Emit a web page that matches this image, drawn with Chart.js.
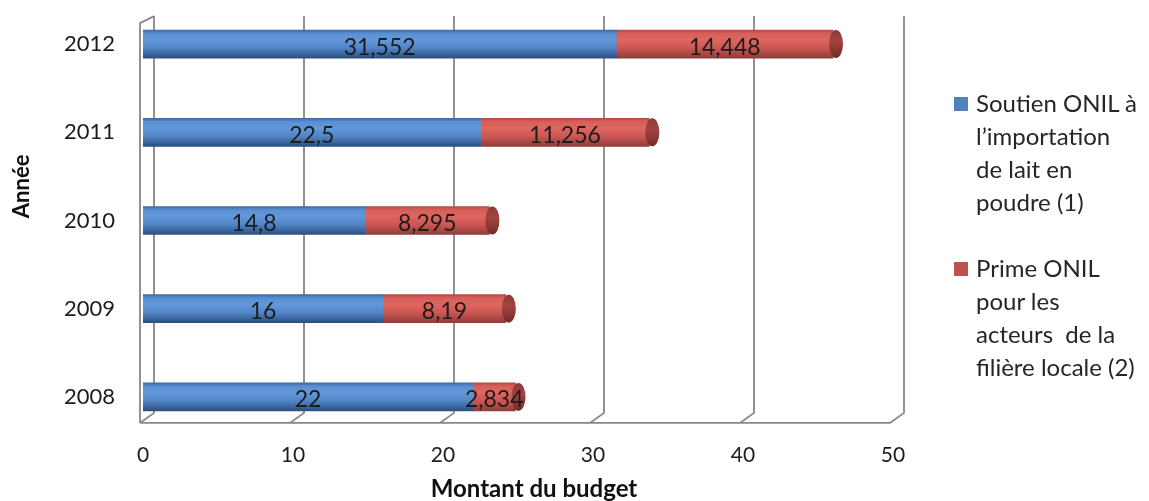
<!DOCTYPE html>
<html><head><meta charset="utf-8">
<script src="https://cdn.jsdelivr.net/npm/chart.js@4.4.0/dist/chart.umd.min.js"></script>
<style>
html,body{margin:0;padding:0;background:#fff;}
#wrap{position:relative;width:1149px;height:501px;}
#c{position:absolute;left:0;top:0;}
#legend{position:absolute;left:954px;top:0;width:195px;height:501px;font-family:Lato,sans-serif;font-size:24px;color:#262626;}
.sw{position:absolute;left:0;width:14px;height:14px;}
.txt{position:absolute;left:22px;line-height:33px;white-space:nowrap;}
</style></head>
<body>
<div id="wrap">
<canvas id="c" width="1149" height="501"></canvas>
<div id="legend"></div>
</div>
<script>
const categories = ['2012', '2011', '2010', '2009', '2008'];
const soutienValues = [31.552, 22.5, 14.8, 16, 22];
const primeValues = [14.448, 11.256, 8.295, 8.19, 2.834];
const xTickValues = [0, 10, 20, 30, 40, 50];
const seriesNames = ['Soutien ONIL à l\u2019importation de lait en poudre (1)', 'Prime ONIL pour les acteurs de la filière locale (2)'];
const legendLines = [
  ['Soutien ONIL à', 'l\u2019importation', 'de lait en', 'poudre (1)'],
  ['Prime ONIL', 'pour les', 'acteurs\u00a0 de la', 'filière locale (2)']
];
const xTitle = 'Montant du budget';
const yTitle = 'Année';

const baseColors = ['#4F81BD', '#C0504D'];
const gradStops = [
  [[0, '#3d69a3'], [0.12, '#5a8fd2'], [0.35, '#6398da'], [0.65, '#5084c6'], [1, '#2b4f80']],
  [[0, '#b84a46'], [0.12, '#d65f5a'], [0.35, '#df6660'], [0.65, '#cb5652'], [1, '#8f3d3a']]
];
const BAR_T = 28;

function makeFill(di) {
  return function (ctx) {
    const chart = ctx.chart;
    if (ctx.type !== 'data' || !chart.chartArea || !chart.scales.y) return baseColors[di];
    const y = chart.scales.y.getPixelForValue(ctx.dataIndex);
    const g = chart.ctx.createLinearGradient(0, y - BAR_T / 2, 0, y + BAR_T / 2);
    gradStops[di].forEach(s => g.addColorStop(s[0], s[1]));
    return g;
  };
}

const fmt = v => String(v).replace('.', ',');

const box3d = {
  id: 'box3d',
  beforeDatasetsDraw(chart) {
    const c = chart.ctx, xs = chart.scales.x, ys = chart.scales.y;
    const yTop = ys.getPixelForValue(0) - 28;
    const yBackBot = ys.getPixelForValue(categories.length - 1) + 16;
    const yFront = yBackBot + 10;
    const dxF = -3, dxB = 11;
    c.save();
    c.strokeStyle = '#878787';
    c.lineWidth = 1.8;
    c.beginPath();
    xTickValues.forEach(v => {
      const xp = xs.getPixelForValue(v);
      c.moveTo(xp + dxB, yTop);
      c.lineTo(xp + dxB, yBackBot);
      c.lineTo(xp + dxF, yFront);
    });
    const x0 = xs.getPixelForValue(xTickValues[0]);
    const x1 = xs.getPixelForValue(xTickValues[xTickValues.length - 1]);
    c.moveTo(x0 + dxF, yFront);
    c.lineTo(x1 + dxF, yFront);
    c.moveTo(x0 + dxF, yFront);
    c.lineTo(x0 + dxF, yTop + 7);
    c.lineTo(x0 + dxB, yTop);
    c.stroke();
    c.restore();
  },
  afterDatasetsDraw(chart) {
    const c = chart.ctx;
    c.save();
    const metaTop = chart.getDatasetMeta(1);
    metaTop.data.forEach(el => {
      const p = el.getProps(['x', 'y'], true);
      const g = c.createLinearGradient(0, p.y - BAR_T / 2, 0, p.y + BAR_T / 2);
      g.addColorStop(0, '#8a3936'); g.addColorStop(0.4, '#a4433f'); g.addColorStop(1, '#6e2c2a');
      c.fillStyle = g;
      c.beginPath();
      c.ellipse(p.x + 3, p.y, 7, BAR_T / 2, 0, 0, Math.PI * 2);
      c.fill();
    });
    c.fillStyle = '#1c1c1c';
    c.font = '23px Lato, sans-serif';
    c.textAlign = 'center';
    c.textBaseline = 'middle';
    chart.data.datasets.forEach((ds, di) => {
      const meta = chart.getDatasetMeta(di);
      meta.data.forEach((el, i) => {
        const p = el.getProps(['x', 'y', 'base'], true);
        c.fillText(fmt(ds.data[i]), (p.x + p.base) / 2, p.y + 3);
      });
    });
    c.restore();
  },
  afterDraw(chart) {
    const c = chart.ctx, xs = chart.scales.x, ys = chart.scales.y;
    c.save();
    c.fillStyle = '#111';
    c.textAlign = 'center';
    c.textBaseline = 'middle';
    c.font = 'bold 24px Lato, sans-serif';
    const xMid = (xs.getPixelForValue(xTickValues[0]) + xs.getPixelForValue(xTickValues[xTickValues.length - 1])) / 2;
    c.fillText(xTitle, xMid + 16, xs.bottom - 12);
    c.translate(22, (ys.getPixelForValue(1) + ys.getPixelForValue(2)) / 2 + 10);
    c.rotate(-Math.PI / 2);
    c.font = 'bold 22px Lato, sans-serif';
    c.fillText(yTitle, 0, 0);
    c.restore();
  }
};

new Chart(document.getElementById('c'), {
  type: 'bar',
  data: {
    labels: categories,
    datasets: [
      { label: seriesNames[0], data: soutienValues, backgroundColor: makeFill(0), borderWidth: 0,
        borderSkipped: 'end', borderRadius: 7, barThickness: BAR_T },
      { label: seriesNames[1], data: primeValues, backgroundColor: makeFill(1), borderWidth: 0,
        borderSkipped: true, borderRadius: 0, barThickness: BAR_T }
    ]
  },
  options: {
    indexAxis: 'y',
    responsive: false,
    animation: false,
    devicePixelRatio: 1,
    layout: { padding: { left: 0, right: 256, top: 0, bottom: 0 } },
    plugins: { legend: { display: false }, tooltip: { enabled: false } },
    scales: {
      x: {
        stacked: true, min: 0, max: 50,
        afterBuildTicks: s => { s.ticks = xTickValues.map(v => ({ value: v })); },
        afterFit: s => { s.height = 60; },
        grid: { display: false, drawTicks: false }, border: { display: false },
        ticks: { color: '#1c1c1c', font: { family: 'Lato', size: 21 }, padding: 2 },
        title: { display: false, text: xTitle }
      },
      y: {
        stacked: true,
        afterFit: s => { s.width = 143; s.paddingTop = 0; s.paddingBottom = 0; },
        grid: { display: false, drawTicks: false }, border: { display: false },
        ticks: { color: '#1c1c1c', font: { family: 'Lato', size: 22 }, padding: 28 },
        title: { display: false, text: yTitle }
      }
    }
  },
  plugins: [box3d]
});

const legendEl = document.getElementById('legend');
const legendTops = [86, 251];
legendLines.forEach((lines, i) => {
  const sw = document.createElement('div');
  sw.className = 'sw';
  sw.style.top = (legendTops[i] + 11) + 'px';
  sw.style.background = baseColors[i];
  legendEl.appendChild(sw);
  const t = document.createElement('div');
  t.className = 'txt';
  t.style.top = legendTops[i] + 'px';
  t.innerHTML = lines.join('<br>');
  legendEl.appendChild(t);
});
</script>
</body></html>
